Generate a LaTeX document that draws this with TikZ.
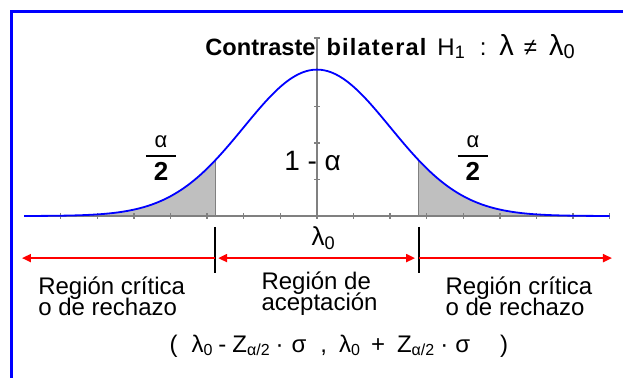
\documentclass[tikz,border=0pt]{standalone}
\usepackage{amsmath}
\usepackage{fontspec}
\setmainfont{Liberation Sans}
\usepackage{tikz}
\usetikzlibrary{arrows.meta,calc,positioning}

\setlength{\lineskiplimit}{-5pt}
\tikzset{
  axisline/.style={gray,line width=0.7pt},
  redarrow/.style={red,line width=1pt,-{Triangle[length=4.5pt,width=4pt]}},
  region/.style={align=left,inner sep=0pt,font=\fontsize{12}{10.5}\selectfont},
}
\newcommand{\gauss}[1]{4*exp(-(#1)*(#1)/8)}
\newcommand{\lam}{{\fontsize{14.5}{14.5}\selectfont λ}}

\begin{document}
\begin{tikzpicture}[x=18.3pt,y=18.3pt]
\useasboundingbox (-8.661,-4.426) rectangle (8.361,5.902);

% Frame
\draw[blue,line width=1.3pt] (8.361,5.59) -- (-8.35,5.59) -- (-8.35,-4.426);

% Critical points
\coordinate (cl) at (-2.78,0);
\coordinate (cr) at (2.78,0);

% Shaded tails
\fill[gray!50] (-8,0) -- plot[domain=-8:-2.78,samples=60] (\x,{\gauss{\x}}) -- (cl) -- cycle;
\fill[gray!50] (cr) -- plot[domain=2.78:8,samples=60] (\x,{\gauss{\x}}) -- (8,0) -- cycle;
\draw[axisline] (cl) -- (-2.78,{\gauss{2.78}});
\draw[axisline] (cr) -- (2.78,{\gauss{2.78}});

% Axes
\draw[axisline] (-8,0) -- (8,0);
\draw[axisline] (0,0) -- (0,4.86);
\foreach \i in {-7,...,8}
  \draw[axisline] (\i,-0.08) -- (\i,0.08);
\foreach \j in {1,2,3,4,4.86}
  \draw[axisline] (-0.08,\j) -- (0.08,\j);

% Normal curve
\draw[blue,line width=0.9pt] plot[domain=-8:8,samples=161,smooth] (\x,{\gauss{\x}});

% Title
\node[anchor=base west,inner sep=0pt,font=\fontsize{11.8}{14}\selectfont\bfseries] (title) at (-3.06,4.38)
  {Contraste\hspace{5.5pt}{\addfontfeature{LetterSpace=5}bilateral}};
\node[anchor=base west,inner sep=0pt,font=\fontsize{12}{14}\selectfont] (hyp) at (3.28,4.38)
  {H\raisebox{-1.5pt}{\fontsize{9}{9}\selectfont 1}\hspace{7.5pt}:\hspace{6.5pt}\lam\hspace{5pt}≠\hspace{6pt}\lam\raisebox{-1.5pt}{\fontsize{10}{10}\selectfont 0}};

% Areas
\node (aleft) at (-4.26,1.58) {$\genfrac{}{}{0.9pt}{0}{\mbox{\fontsize{11}{11}\selectfont α}}{\mbox{\hspace{4pt}\fontsize{13}{13}\selectfont\bfseries 2\hspace{4pt}}}$};
\node (aright) at (4.26,1.58) {$\genfrac{}{}{0.9pt}{0}{\mbox{\fontsize{11}{11}\selectfont α}}{\mbox{\hspace{4pt}\fontsize{13}{13}\selectfont\bfseries 2\hspace{4pt}}}$};
\node[font=\fontsize{14}{14}\selectfont] (onem) at (-0.12,1.50) {1 - α};
\node[font=\fontsize{13}{13}\selectfont] (lam) at (0.18,-0.60) {λ\textsubscript{0}};

% Region limits
\draw[line width=0.8pt] ($(cl)+(0,-0.30)$) -- ($(cl)+(0,-1.56)$);
\draw[line width=0.8pt] ($(cr)+(0,-0.30)$) -- ($(cr)+(0,-1.56)$);

% Regions
\coordinate (lo) at (-8.06,-1.15);
\coordinate (li) at (-2.80,-1.15);
\coordinate (ml) at (-2.70,-1.15);
\coordinate (mr) at (2.68,-1.15);
\coordinate (ri) at (2.78,-1.15);
\coordinate (ro) at (8.06,-1.15);
\draw[redarrow] (li) -- (lo);
\draw[redarrow,{Triangle[length=4.5pt,width=4pt]}-{Triangle[length=4.5pt,width=4pt]}] (ml) -- (mr);
\draw[redarrow] (ri) -- (ro);

\node[region] (rleft) at (-5.61,-2.19) {Región crítica\\o de rechazo};
\node[region] (rmid) at (0.07,-2.12) {Región de\\aceptación};
\node[region] (rright) at (5.52,-2.19) {Región crítica\\o de rechazo};

% Interval
\node[anchor=base west,inner sep=0pt,font=\fontsize{12}{14}\selectfont] (ci) at (-4.04,-3.72)
  {(\hspace{7pt}λ\textsubscript{0}\hspace{2.5pt}-\hspace{3pt}Z\textsubscript{α/2}\hspace{2.5pt}·\hspace{4pt}σ\hspace{7pt},\hspace{6pt}λ\textsubscript{0}\hspace{5pt}+\hspace{6pt}Z\textsubscript{α/2}\hspace{2.5pt}·\hspace{3.5pt}σ\hspace{15pt})};
\end{tikzpicture}
\end{document}
